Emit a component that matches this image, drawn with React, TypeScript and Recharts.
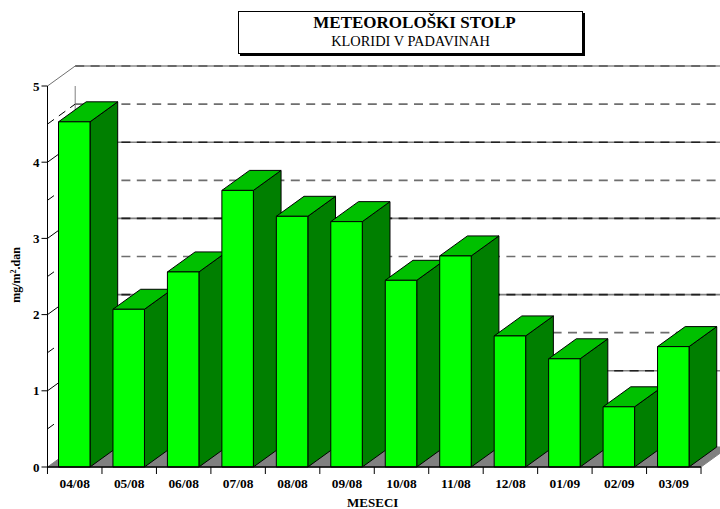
import React from "react";
import { ComposedChart, Bar, XAxis, YAxis, CartesianGrid } from "recharts";

const months = ["04/08","05/08","06/08","07/08","08/08","09/08","10/08","11/08","12/08","01/09","02/09","03/09"];
const chloride = [4.53,2.07,2.56,3.63,3.29,3.22,2.45,2.77,1.72,1.42,0.79,1.58];
const yTicks = [0,1,2,3,4,5];
const gridValues = [0,0.5,1,1.5,2,2.5,3,3.5,4,4.5,5];
const titleMain = "METEOROLOŠKI STOLP";
const titleSub = "KLORIDI V PADAVINAH";
const xLabel = "MESECI";

const rows = months.map((m, i) => ({ month: m, value: chloride[i] }));
const DX = 27.7;
const DY = 20;
const FONT = "'Liberation Serif', serif";

function Bar3D(p: any) {
  const { x, y, width, height } = p;
  const common = { stroke: "#000", strokeWidth: 1, strokeLinejoin: "round" as const };
  return (
    <g>
      <path d={`M${x + width},${y} l${DX},${-DY} v${height} l${-DX},${DY} Z`} fill="#007f00" {...common} />
      <path d={`M${x},${y} l${DX},${-DY} h${width} l${-DX},${DY} Z`} fill="#00c000" {...common} />
      <rect x={x} y={y} width={width} height={height} fill="#00ff00" {...common} />
    </g>
  );
}

function gridLine(p: any) {
  const { x, y, width, height, y1 } = p;
  const step = Math.round(((y + height - y1) / height) * 10);
  const k = `g-${step}`;
  const backY = y1 - DY;
  const backX1 = x + DX;
  const backX2 = x + width + DX;
  if (step === 0) {
    return (
      <g key={k}>
        <path d={`M${x},${y1} l${DX},${-DY} h${width} l${-DX},${DY} Z`} fill="#808080" stroke="#808080" />
        <line x1={x + DX} y1={y} x2={x + DX} y2={backY} stroke="#808080" strokeWidth={1} />
      </g>
    );
  }
  if (step === 10) {
    return (
      <g key={k}>
        <line x1={backX1} y1={backY} x2={backX2} y2={backY} stroke="#8a8a8a" strokeWidth={1.6} />
        <line x1={backX1} y1={backY} x2={backX2} y2={backY} stroke="#555" strokeWidth={1.6} strokeDasharray="9 6.4" />
        <line x1={x} y1={y1} x2={x + DX} y2={backY} stroke="#707070" strokeWidth={1} />
      </g>
    );
  }
  if (step % 2 === 0) {
    return (
      <g key={k}>
        <line x1={backX1} y1={backY} x2={backX2} y2={backY} stroke="#808080" strokeWidth={1.6} />
        <line x1={backX1} y1={backY} x2={backX2} y2={backY} stroke="#202020" strokeWidth={1.6} strokeDasharray="9 6.4" />
        <line x1={x} y1={y1} x2={x + DX} y2={backY} stroke="#000" strokeWidth={1} />
      </g>
    );
  }
  return (
    <g key={k}>
      <line x1={backX1} y1={backY} x2={backX2} y2={backY} stroke="#6e6e6e" strokeWidth={1.7} strokeDasharray="9 6.4" />
      <line x1={x} y1={y1} x2={x + DX} y2={backY} stroke="#000" strokeWidth={1} strokeDasharray="8 6" />
    </g>
  );
}

function XTick(p: any) {
  const { x, y, payload, index } = p;
  const band = 654 / months.length;
  return (
    <g>
      <line x1={x + band / 2} y1={y - 8} x2={x + band / 2} y2={y - 1} stroke="#000" />
      {index === 0 && <line x1={x - band / 2} y1={y - 8} x2={x - band / 2} y2={y - 1} stroke="#000" />}
      <text x={x} y={y + 13} textAnchor="middle" fontFamily={FONT} fontWeight="bold" fontSize={13.4} fill="#000">
        {payload.value}
      </text>
    </g>
  );
}

function YTitle() {
  return (
    <text transform="translate(19,275) rotate(-90)" textAnchor="middle" fontFamily={FONT} fontWeight="bold" fontSize={12} fill="#000">
      mg/m<tspan fontSize={8} dy={-4}>2</tspan><tspan dy={4}>.dan</tspan>
    </text>
  );
}

function XTitle(p: any) {
  const { viewBox } = p;
  return (
    <text x={viewBox.x + viewBox.width / 2 - 1.5} y={507} textAnchor="middle" fontFamily={FONT} fontWeight="bold" fontSize={13} fill="#000">
      {xLabel}
    </text>
  );
}

export default function App() {
  return (
    <div style={{ position: "absolute", left: 0.7, top: 0, width: 720, height: 509, background: "#fff" }}>
      <ComposedChart
        width={720}
        height={509}
        data={rows}
        margin={{ top: 86, right: 20, bottom: 12, left: 0 }}
        style={{ overflow: "hidden" }}
      >
        <CartesianGrid horizontal={gridLine} vertical={false} horizontalValues={gridValues} />
        <XAxis
          dataKey="month"
          height={30}
          interval={0}
          tick={XTick}
          tickLine={false}
          axisLine={{ stroke: "#000", strokeWidth: 1.5 }}
          label={{ content: XTitle }}
        />
        <YAxis
          width={46.5}
          domain={[0, 5]}
          ticks={yTicks}
          tickSize={6}
          tickMargin={2}
          tick={{ fontFamily: FONT, fontWeight: "bold", fontSize: 13, fill: "#000" }}
          tickLine={{ stroke: "#000" }}
          axisLine={{ stroke: "#000", strokeWidth: 1 }}
          label={{ content: YTitle }}
        />
        <Bar dataKey="value" barSize={31.5} shape={Bar3D} isAnimationActive={false} />
      </ComposedChart>
      <div style={{ position: "absolute", left: 237.3, top: 11, width: 343, height: 41, border: "1px solid #000", boxShadow: "2px 2px 0 #000", background: "#fff", textAlign: "center", fontFamily: FONT, color: "#000" }}>
        <div style={{ fontWeight: "bold", fontSize: 17, lineHeight: "20px", marginTop: 1, paddingLeft: 8 }}>{titleMain}</div>
        <div style={{ fontSize: 14.4, lineHeight: "17px", paddingLeft: 0 }}>{titleSub}</div>
      </div>
    </div>
  );
}
